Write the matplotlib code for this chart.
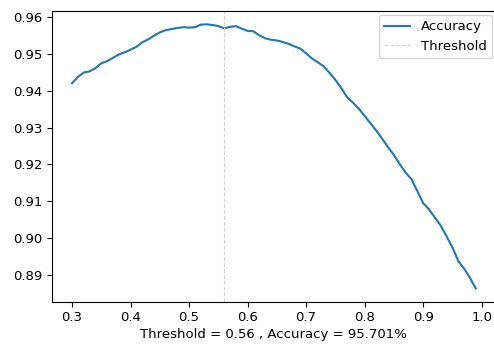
import matplotlib
matplotlib.use("Agg")
from matplotlib import pyplot as plt

thresholds = [round(0.30 + 0.01 * i, 2) for i in range(70)]
accuracy = [
    0.9421, 0.9438, 0.9450, 0.9453, 0.9462, 0.9475, 0.9481, 0.9490, 0.9499, 0.9505,
    0.9512, 0.9520, 0.9532, 0.9540, 0.9550, 0.9559, 0.9565, 0.9568, 0.9571, 0.9573,
    0.9572, 0.9573, 0.9580, 0.9581, 0.9579, 0.9576, 0.9570, 0.9574, 0.9576, 0.9569,
    0.9563, 0.9562, 0.9551, 0.9543, 0.9539, 0.9537, 0.9533, 0.9528, 0.9521, 0.9515,
    0.9502, 0.9488, 0.9478, 0.9467, 0.9449, 0.9430, 0.9408, 0.9383, 0.9368, 0.9352,
    0.9332, 0.9312, 0.9292, 0.9270, 0.9247, 0.9226, 0.9201, 0.9178, 0.9160, 0.9128,
    0.9095, 0.9078, 0.9056, 0.9034, 0.9005, 0.8975, 0.8938, 0.8917, 0.8892, 0.8863,
]
best_threshold = 0.56
best_accuracy = 95.701

plt.rcParams["font.size"] = 9.5
fig = plt.figure(figsize=(4.94, 3.46), dpi=100)
# the right spine sits just past the image edge, like the cropped original
ax = fig.add_axes([0.105, 0.128, 0.899, 0.840])
ax.plot(thresholds, accuracy, label="Accuracy")
ax.axvline(best_threshold, color="lightgray", linestyle="--", linewidth=0.8,
           label="Threshold")
ax.set_xlabel("Threshold = %s , Accuracy = %s%%" % (best_threshold, best_accuracy),
              labelpad=2.5)
ax.legend(loc="upper right", borderaxespad=0.3)
ax.spines["right"].set_visible(False)
fig.savefig("out.png", dpi=100)
